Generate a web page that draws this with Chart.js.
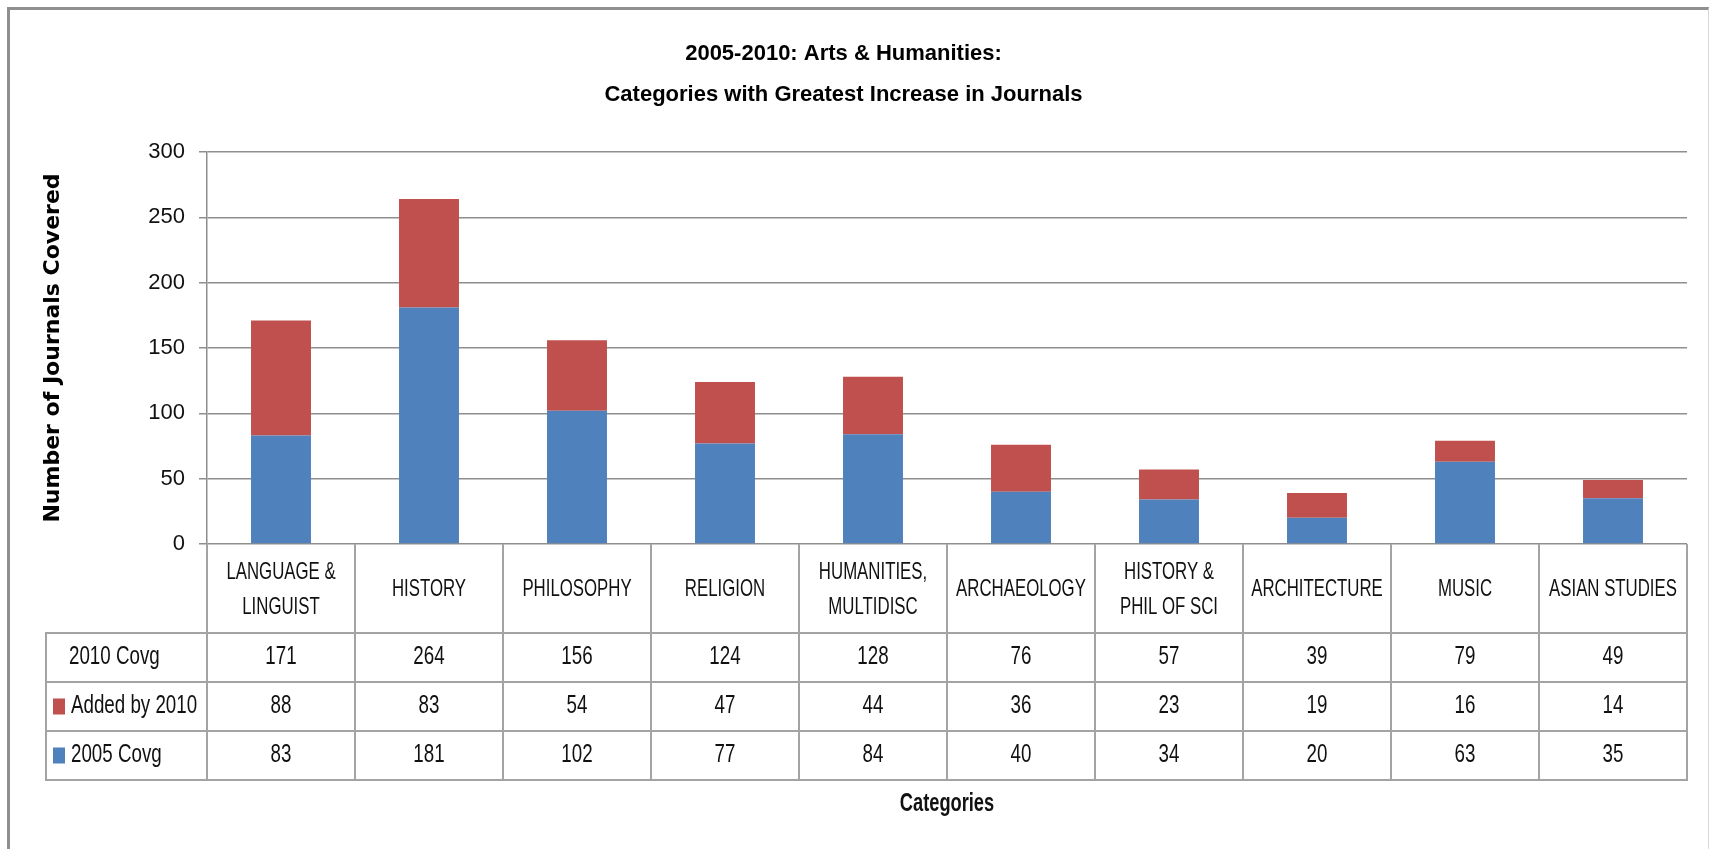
<!DOCTYPE html>
<html>
<head>
<meta charset="utf-8">
<title>2005-2010: Arts & Humanities</title>
<script src="https://cdn.jsdelivr.net/npm/chart.js@4.4.1/dist/chart.umd.min.js"></script>
<style>
html, body { margin: 0; padding: 0; background: #fff; overflow: hidden; }
#frame {
    position: absolute; left: 7px; top: 7px; width: 1698px; height: 900px;
    border: 3px solid #8f8f8f; border-right: 1px solid #d8d8d8; border-bottom: none;
}
#wrap { position: absolute; left: 0; top: 0; width: 1709px; height: 849px; }
</style>
</head>
<body>
<div id="frame"></div>
<div id="wrap"><canvas id="chart"></canvas></div>
<script>
const categories = [
    ['LANGUAGE &', 'LINGUIST'],
    ['HISTORY'],
    ['PHILOSOPHY'],
    ['RELIGION'],
    ['HUMANITIES,', 'MULTIDISC'],
    ['ARCHAEOLOGY'],
    ['HISTORY &', 'PHIL OF SCI'],
    ['ARCHITECTURE'],
    ['MUSIC'],
    ['ASIAN STUDIES']
];
const total2010 = [171, 264, 156, 124, 128, 76, 57, 39, 79, 49];
const added2010 = [88, 83, 54, 47, 44, 36, 23, 19, 16, 14];
const covg2005 = [83, 181, 102, 77, 84, 40, 34, 20, 63, 35];
const seriesNames = ['2010 Covg', 'Added by 2010', '2005 Covg'];
const yTicks = [0, 50, 100, 150, 200, 250, 300];

const BLUE = '#4f81bd';
const RED = '#c0504d';
const LINE = '#a3a3a3';
const SANS = '"Liberation Sans", Arial, sans-serif';

// text squeezed horizontally, the reference uses a condensed face
function narrowText(ctx, text, x, y, align, sx) {
    ctx.save();
    ctx.translate(x, y);
    ctx.scale(sx, 1);
    ctx.textAlign = align;
    ctx.fillText(text, 0, 0);
    ctx.restore();
}

// data table under the plot, drawn from the same arrays and the x scale
const tablePlugin = {
    id: 'dataTable',
    afterDraw(chart) {
        const ctx = chart.ctx;
        const xs = chart.scales.x;
        const area = chart.chartArea;
        const tableLeft = 46;
        const headerBottom = area.bottom + 89;
        const rowH = 49;
        const tableBottom = headerBottom + rowH * 3;
        const colW = (area.right - area.left) / categories.length;

        ctx.save();
        ctx.strokeStyle = LINE;
        ctx.lineWidth = 2;
        ctx.beginPath();
        for (let k = 0; k <= categories.length; k++) {
            const x = Math.round(area.left + k * colW);
            ctx.moveTo(x, area.bottom);
            ctx.lineTo(x, tableBottom);
        }
        ctx.moveTo(tableLeft, headerBottom);
        ctx.lineTo(tableLeft, tableBottom);
        for (let r = 0; r <= 3; r++) {
            const y = headerBottom + r * rowH;
            ctx.moveTo(tableLeft - 1, y);
            ctx.lineTo(area.right + 1, y);
        }
        ctx.stroke();

        ctx.fillStyle = '#111';
        ctx.textBaseline = 'middle';

        // category labels
        ctx.font = '24px ' + SANS;
        const hdrMid = (area.bottom + headerBottom) / 2;
        categories.forEach((lines, i) => {
            const cx = xs.getPixelForValue(i);
            lines.forEach((t, j) => {
                narrowText(ctx, t, cx, hdrMid + 1 + (j - (lines.length - 1) / 2) * 35, 'center', 0.7);
            });
        });

        // rows
        const rows = [
            { name: seriesNames[0], values: total2010, color: null },
            { name: seriesNames[1], values: added2010, color: RED },
            { name: seriesNames[2], values: covg2005, color: BLUE }
        ];
        ctx.font = '25px ' + SANS;
        rows.forEach((row, r) => {
            const cy = headerBottom + r * rowH + rowH / 2;
            row.values.forEach((v, i) => {
                narrowText(ctx, String(v), xs.getPixelForValue(i), cy, 'center', 0.75);
            });
            if (row.color) {
                ctx.fillStyle = row.color;
                ctx.fillRect(53, cy - 8, 12, 16);
                ctx.fillStyle = '#111';
            }
            narrowText(ctx, row.name, row.color ? 71 : 69, cy, 'left', 0.75);
        });

        // x axis title
        ctx.font = 'bold 25px ' + SANS;
        narrowText(ctx, 'Categories', (area.left + area.right) / 2, tableBottom + 24, 'center', 0.73);
        ctx.restore();
    }
};

const ctx = document.getElementById('chart').getContext('2d');
const chart = new Chart(ctx, {
    type: 'bar',
    data: {
        labels: categories,
        datasets: [{
            label: seriesNames[2],
            data: covg2005,
            backgroundColor: BLUE,
            barPercentage: 0.405,
            categoryPercentage: 1
        },
        {
            label: seriesNames[1],
            data: added2010,
            backgroundColor: RED,
            barPercentage: 0.405,
            categoryPercentage: 1
        }]
    },
    options: {
        responsive: true,
        maintainAspectRatio: false,
        animation: false,
        layout: {
            padding: { left: 0, right: 22, top: 0, bottom: 305 }
        },
        scales: {
            x: {
                stacked: true,
                display: false
            },
            y: {
                stacked: true,
                min: 0,
                max: 300,
                afterBuildTicks: (s) => { s.ticks = yTicks.map(v => ({ value: v })); },
                afterFit: (s) => { s.width = 207; },
                grid: {
                    color: '#8e8e8e',
                    lineWidth: 1.5,
                    tickLength: 8
                },
                border: { color: '#8e8e8e', width: 1.5 },
                ticks: {
                    color: '#111',
                    padding: 14,
                    font: { family: SANS, size: 22 }
                },
                title: {
                    display: true,
                    text: 'Number of Journals Covered',
                    color: '#000',
                    padding: { top: 40, bottom: 0 },
                    font: { family: '"DejaVu Sans", Verdana, sans-serif', size: 22, weight: 'bold' }
                }
            }
        },
        plugins: {
            legend: { display: false },
            tooltip: { enabled: false },
            title: {
                display: true,
                text: ['2005-2010: Arts & Humanities:', 'Categories with Greatest Increase in Journals'],
                color: '#000',
                padding: { top: 33.5, bottom: 36.5 },
                font: { family: SANS, size: 22, weight: 'bold', lineHeight: 41 / 22 }
            }
        }
    },
    plugins: [tablePlugin]
});
</script>
</body>
</html>
